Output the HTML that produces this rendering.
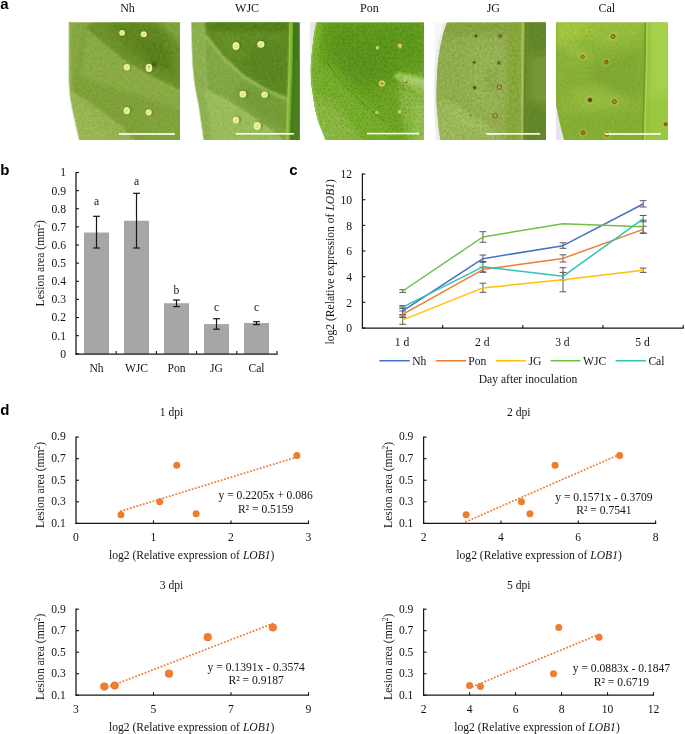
<!DOCTYPE html>
<html><head><meta charset="utf-8"><title>Figure</title>
<style>html,body{margin:0;padding:0;background:#fff;}svg{display:block;}text{font-family:"Liberation Serif",serif;}.pl text{font-family:"Liberation Sans",sans-serif;font-weight:bold;}</style>
</head><body>
<svg width="685" height="734" viewBox="0 0 685 734" font-family="Liberation Serif, serif" font-size="11.6" fill="#141414" style="opacity:0.999">
<rect width="685" height="734" fill="#fff"/>
<text x="127.50" y="11.50" text-anchor="middle" font-size="12">Nh</text>
<text x="247.10" y="11.50" text-anchor="middle" font-size="12">WJC</text>
<text x="369.30" y="11.50" text-anchor="middle" font-size="12">Pon</text>
<text x="493.30" y="11.50" text-anchor="middle" font-size="12">JG</text>
<text x="606.80" y="11.50" text-anchor="middle" font-size="12">Cal</text>
<defs>
<filter id="b1" x="-20%" y="-20%" width="140%" height="140%"><feGaussianBlur stdDeviation="1"/></filter>
<filter id="b2" x="-30%" y="-30%" width="160%" height="160%"><feGaussianBlur stdDeviation="2.2"/></filter>
<filter id="b4" x="-40%" y="-40%" width="180%" height="180%"><feGaussianBlur stdDeviation="4"/></filter>
<filter id="b7" x="-50%" y="-50%" width="200%" height="200%"><feGaussianBlur stdDeviation="7"/></filter>
<filter id="b05" x="-20%" y="-20%" width="140%" height="140%"><feGaussianBlur stdDeviation="0.5"/></filter>
<filter id="noise" x="0" y="0" width="100%" height="100%">
  <feTurbulence type="fractalNoise" baseFrequency="0.35" numOctaves="3" seed="4" result="n"/>
  <feColorMatrix in="n" type="matrix" values="0 0 0 0 0.5  0 0 0 0 0.5  0 0 0 0 0.2  0.9 0.9 0 0 -0.62"/>
</filter>
<filter id="noised" x="0" y="0" width="100%" height="100%">
  <feTurbulence type="fractalNoise" baseFrequency="0.4" numOctaves="3" seed="9" result="n"/>
  <feColorMatrix in="n" type="matrix" values="0 0 0 0 0.1  0 0 0 0 0.25  0 0 0 0 0.0  1.0 1.0 0 0 -0.72"/>
</filter>
<filter id="dots" x="0" y="0" width="100%" height="100%">
  <feTurbulence type="fractalNoise" baseFrequency="0.55" numOctaves="1" seed="2" result="n"/>
  <feColorMatrix in="n" type="matrix" values="0 0 0 0 0.12  0 0 0 0 0.3  0 0 0 0 0.02  3.5 0 0 0 -1.95"/>
</filter>
</defs>
<clipPath id="c1"><rect x="67.0" y="22.2" width="113.0" height="117.8"/></clipPath>
<clipPath id="l1"><path d="M68.8,22.2 L180.0,22.2 L180.0,140.0 L79.0,140.0 C76.5,130 72.5,112 70.2,98 C69.2,92 68.8,86 68.8,80 Z"/></clipPath>
<g clip-path="url(#c1)">
<g clip-path="url(#l1)">
<rect x="67.0" y="22.2" width="113.0" height="117.8" fill="#7fa23a"/>
<polygon points="66,20 90,20 84,60 74,92 66,92" fill="#88aa44" filter="url(#b2)" opacity="0.9"/>
<polygon points="87,30 123,59.6 150.7,76 182,91 182,112 140,96 100,84 80,76" fill="#8fb04c" filter="url(#b2)" opacity="0.9"/>
<polygon points="91,20 162,20 182,40 182,91.5 150.7,76 122.9,59.6 100,41 87,30" fill="#6a9029" filter="url(#b2)"/>
<polygon points="108,20 150,20 174,46 176,78 150,66 126,48" fill="#587f1b" filter="url(#b4)" opacity="0.85"/>
<polygon points="138,40 162,44 170,70 150,62" fill="#4c7312" filter="url(#b2)" opacity="0.6"/>
<polygon points="156,18 184,18 184,48" fill="#7ba43a" filter="url(#b2)"/>
<polyline points="87,31 122.5,61 150.5,77.5 182,93" fill="none" stroke="#98b852" stroke-width="2.2" stroke-linecap="round" stroke-linejoin="round" filter="url(#b1)" opacity="0.8"/>
<polygon points="140,100 182,112 182,142 150,142" fill="#83a840" filter="url(#b4)" opacity="0.6"/>
<polygon points="66,89 72.3,90.6 85.3,98.8 122.9,126.6 136,142 66,142" fill="#9ab856" filter="url(#b1)"/>
<polygon points="66,100 84,106 112,142 66,142" fill="#a0bd5c" filter="url(#b2)" opacity="0.8"/>
<polyline points="72,89 85.3,97.4 122.9,125.2 134,138.6" fill="none" stroke="#7a9e38" stroke-width="1.6" stroke-linecap="round" stroke-linejoin="round" filter="url(#b1)" opacity="0.55"/>
<polyline points="84.0,50 120.0,74 182,110" fill="none" stroke="#9cbc5c" stroke-width="0.9" stroke-linecap="round" stroke-linejoin="round" filter="url(#b1)" opacity="0.28"/>
<polyline points="85.8,59 121.8,83 182,119" fill="none" stroke="#9cbc5c" stroke-width="0.9" stroke-linecap="round" stroke-linejoin="round" filter="url(#b1)" opacity="0.28"/>
<polyline points="87.6,68 123.6,92 182,128" fill="none" stroke="#9cbc5c" stroke-width="0.9" stroke-linecap="round" stroke-linejoin="round" filter="url(#b1)" opacity="0.28"/>
<polyline points="89.4,77 125.4,101 182,137" fill="none" stroke="#9cbc5c" stroke-width="0.9" stroke-linecap="round" stroke-linejoin="round" filter="url(#b1)" opacity="0.28"/>
<polyline points="91.2,86 127.2,110 182,146" fill="none" stroke="#9cbc5c" stroke-width="0.9" stroke-linecap="round" stroke-linejoin="round" filter="url(#b1)" opacity="0.28"/>
<polyline points="93.0,95 129.0,119 182,155" fill="none" stroke="#9cbc5c" stroke-width="0.9" stroke-linecap="round" stroke-linejoin="round" filter="url(#b1)" opacity="0.28"/>
<polyline points="94.8,104 130.8,128 182,164" fill="none" stroke="#9cbc5c" stroke-width="0.9" stroke-linecap="round" stroke-linejoin="round" filter="url(#b1)" opacity="0.28"/>
<polyline points="70.4,20 70.4,84 73,104 80,134" fill="none" stroke="#a5c06a" stroke-width="2.0" stroke-linecap="round" stroke-linejoin="round" filter="url(#b1)" opacity="0.7"/>
<polyline points="84.5,34 80,62 74,90" fill="none" stroke="#6d9230" stroke-width="1.2" stroke-linecap="round" stroke-linejoin="round" filter="url(#b1)" opacity="0.5"/>
<rect x="67.0" y="22.2" width="113.0" height="117.8" filter="url(#noise)" opacity="0.3"/>
<rect x="67.0" y="22.2" width="113.0" height="117.8" filter="url(#noised)" opacity="0.35"/>
<circle cx="154.0" cy="64.6" r="2.2" fill="#2f4a10" filter="url(#b1)" opacity="0.85"/>
<ellipse cx="123.1" cy="32.4" rx="2.9" ry="2.9" fill="#34580f" opacity="0.45" filter="url(#b1)"/>
<ellipse cx="122.1" cy="32.8" rx="2.9" ry="2.9" fill="#ecf0a6" filter="url(#b05)"/>
<circle cx="121.6" cy="33.599999999999994" r="1.1" fill="#d3d872" filter="url(#b05)" opacity="0.8"/>
<circle cx="122.89999999999999" cy="32.099999999999994" r="0.7" fill="#c0c860" filter="url(#b05)" opacity="0.7"/>
<ellipse cx="144.8" cy="33.800000000000004" rx="3.0" ry="3.0" fill="#34580f" opacity="0.45" filter="url(#b1)"/>
<ellipse cx="143.8" cy="34.2" rx="3.0" ry="3.0" fill="#ecf0a6" filter="url(#b05)"/>
<circle cx="143.3" cy="35.0" r="1.1" fill="#d3d872" filter="url(#b05)" opacity="0.8"/>
<circle cx="144.60000000000002" cy="33.5" r="0.7" fill="#c0c860" filter="url(#b05)" opacity="0.7"/>
<ellipse cx="127.9" cy="66.89999999999999" rx="3.2" ry="3.2" fill="#34580f" opacity="0.45" filter="url(#b1)"/>
<ellipse cx="126.9" cy="67.3" rx="3.2" ry="3.2" fill="#ecf0a6" filter="url(#b05)"/>
<circle cx="126.4" cy="68.1" r="1.1" fill="#d3d872" filter="url(#b05)" opacity="0.8"/>
<circle cx="127.7" cy="66.6" r="0.7" fill="#c0c860" filter="url(#b05)" opacity="0.7"/>
<ellipse cx="150.0" cy="67.5" rx="3.3" ry="4.125" fill="#34580f" opacity="0.45" filter="url(#b1)"/>
<ellipse cx="149.0" cy="67.9" rx="3.3" ry="4.125" fill="#ecf0a6" filter="url(#b05)"/>
<circle cx="148.5" cy="68.7" r="1.1" fill="#d3d872" filter="url(#b05)" opacity="0.8"/>
<circle cx="149.8" cy="67.2" r="0.7" fill="#c0c860" filter="url(#b05)" opacity="0.7"/>
<ellipse cx="127.8" cy="110.19999999999999" rx="3.2" ry="3.6799999999999997" fill="#34580f" opacity="0.45" filter="url(#b1)"/>
<ellipse cx="126.8" cy="110.6" rx="3.2" ry="3.6799999999999997" fill="#ecf0a6" filter="url(#b05)"/>
<circle cx="126.3" cy="111.39999999999999" r="1.1" fill="#d3d872" filter="url(#b05)" opacity="0.8"/>
<circle cx="127.6" cy="109.89999999999999" r="0.7" fill="#c0c860" filter="url(#b05)" opacity="0.7"/>
<ellipse cx="149.7" cy="111.89999999999999" rx="3.0" ry="3.1500000000000004" fill="#34580f" opacity="0.45" filter="url(#b1)"/>
<ellipse cx="148.7" cy="112.3" rx="3.0" ry="3.1500000000000004" fill="#ecf0a6" filter="url(#b05)"/>
<circle cx="148.2" cy="113.1" r="1.1" fill="#d3d872" filter="url(#b05)" opacity="0.8"/>
<circle cx="149.5" cy="111.6" r="0.7" fill="#c0c860" filter="url(#b05)" opacity="0.7"/>
<circle cx="148.9" cy="66.6" r="0.9" fill="#6f8a2a" filter="url(#b05)" opacity="0.8"/>
</g>
<polyline points="68.6,22.2 68.6,80 70,98 73,114 79,140.0" fill="none" stroke="#e3ebd0" stroke-width="1.2" stroke-linecap="round" stroke-linejoin="round" filter="url(#b05)" opacity="0.8"/>
<rect x="118.8" y="133.2" width="56.10000000000001" height="1.6" fill="#fff"/>
</g>
<clipPath id="c2"><rect x="191.0" y="22.2" width="108.80000000000001" height="117.8"/></clipPath>
<clipPath id="l2"><path d="M191.0,22.2 L299.8,22.2 L299.8,140.0 L203.5,140.0 L200.7,120 L198.5,105 L196.4,95 L194.2,82 L192.4,64 L191.5,40 Z"/></clipPath>
<g clip-path="url(#c2)">
<g clip-path="url(#l2)">
<rect x="191.0" y="22.2" width="108.80000000000001" height="117.8" fill="#84ab48"/>
<polygon points="197,40 206.3,34.9 223.2,55.8 244,75 268.2,89.5 290,98.5 290,140 281,137.8 255.3,118.5 223.2,97.6 197.4,86.3" fill="#82a946" filter="url(#b2)"/>
<polygon points="236,84 270,92 290,102 290,134 262,118 240,102" fill="#6f9a36" filter="url(#b4)" opacity="0.85"/>
<polygon points="203,20 292,20 292,99 268.2,89.5 244,75 223.2,55.8 206.3,34.9" fill="#5b8a22" filter="url(#b1)"/>
<polygon points="206,20 292,20 292,32 210,31" fill="#4b7a18" filter="url(#b2)" opacity="0.9"/>
<polygon points="236,50 288,44 288,92 262,84 244,70" fill="#527f1c" filter="url(#b4)" opacity="0.8"/>
<polygon points="214,32 236,34 250,60 232,58" fill="#639026" filter="url(#b2)" opacity="0.7"/>
<polyline points="206,36.5 222.6,57.4 243.4,76.6 267.6,91.2 290,100.3" fill="none" stroke="#a4c66c" stroke-width="2.4" stroke-linecap="round" stroke-linejoin="round" filter="url(#b1)" opacity="0.9"/>
<polygon points="190,84 197.4,86.3 223.2,97.6 255.3,118.5 281,137.8 284,142 190,142" fill="#9fc264" filter="url(#b1)"/>
<polyline points="197.4,87.6 223,99 255,120 280,139" fill="none" stroke="#a8ca70" stroke-width="1.6" stroke-linecap="round" stroke-linejoin="round" filter="url(#b1)" opacity="0.8"/>
<polygon points="190,20 203,20 204,60 207,100 214,142 190,142" fill="#8fb556" filter="url(#b2)" opacity="0.9"/>
<polyline points="203.4,20 204.4,60 207.5,100 214,142" fill="none" stroke="#a9c97a" stroke-width="1.3" stroke-linecap="round" stroke-linejoin="round" filter="url(#b1)" opacity="0.8"/>
<polyline points="194,40 205,30" fill="none" stroke="#a4c674" stroke-width="0.9" stroke-linecap="round" stroke-linejoin="round" filter="url(#b05)" opacity="0.45"/>
<polyline points="195,58 207,46" fill="none" stroke="#a4c674" stroke-width="0.9" stroke-linecap="round" stroke-linejoin="round" filter="url(#b05)" opacity="0.45"/>
<polyline points="196,74 210,64" fill="none" stroke="#a4c674" stroke-width="0.9" stroke-linecap="round" stroke-linejoin="round" filter="url(#b05)" opacity="0.45"/>
<polyline points="199,92 210,82" fill="none" stroke="#a4c674" stroke-width="0.9" stroke-linecap="round" stroke-linejoin="round" filter="url(#b05)" opacity="0.45"/>
<polyline points="201,110 214,100" fill="none" stroke="#a4c674" stroke-width="0.9" stroke-linecap="round" stroke-linejoin="round" filter="url(#b05)" opacity="0.45"/>
<polyline points="204,128 218,118" fill="none" stroke="#a4c674" stroke-width="0.9" stroke-linecap="round" stroke-linejoin="round" filter="url(#b05)" opacity="0.45"/>
<polyline points="196,48 206,62" fill="none" stroke="#a4c674" stroke-width="0.9" stroke-linecap="round" stroke-linejoin="round" filter="url(#b05)" opacity="0.45"/>
<polyline points="198,70 208,84" fill="none" stroke="#a4c674" stroke-width="0.9" stroke-linecap="round" stroke-linejoin="round" filter="url(#b05)" opacity="0.45"/>
<polyline points="200,90 212,104" fill="none" stroke="#a4c674" stroke-width="0.9" stroke-linecap="round" stroke-linejoin="round" filter="url(#b05)" opacity="0.45"/>
<rect x="191.0" y="22.2" width="108.80000000000001" height="117.8" filter="url(#noise)" opacity="0.28"/>
<rect x="191.0" y="22.2" width="108.80000000000001" height="117.8" filter="url(#noised)" opacity="0.3"/>
<polygon points="292.5,20 301,20 301,142 289,142" fill="#43761a" filter="url(#b05)"/>
<polygon points="295,60 301,60 301,142 292,142" fill="#4f8222" filter="url(#b1)" opacity="0.8"/>
<polyline points="291.5,20 290.2,70 287.4,142" fill="none" stroke="#86be32" stroke-width="3.8" stroke-linecap="round" stroke-linejoin="round" filter="url(#b1)"/>
<polyline points="290.2,20 289.1,70 286.5,142" fill="none" stroke="#a2cf58" stroke-width="1.0" stroke-linecap="round" stroke-linejoin="round" filter="url(#b05)" opacity="0.8"/>
<ellipse cx="237.5" cy="45.7" rx="3.5" ry="3.9200000000000004" fill="#2f5a10" opacity="0.5" filter="url(#b1)"/>
<ellipse cx="236.0" cy="46.0" rx="3.5" ry="3.9200000000000004" fill="#eef1a2" filter="url(#b05)"/>
<circle cx="235.6" cy="46.9" r="1.2" fill="#d2d86e" filter="url(#b05)" opacity="0.8"/>
<circle cx="237.0" cy="45.2" r="0.8" fill="#bcc85c" filter="url(#b05)" opacity="0.7"/>
<ellipse cx="262.4" cy="44.0" rx="3.6" ry="3.42" fill="#2f5a10" opacity="0.5" filter="url(#b1)"/>
<ellipse cx="260.9" cy="44.3" rx="3.6" ry="3.42" fill="#eef1a2" filter="url(#b05)"/>
<circle cx="260.5" cy="45.199999999999996" r="1.2" fill="#d2d86e" filter="url(#b05)" opacity="0.8"/>
<circle cx="261.9" cy="43.5" r="0.8" fill="#bcc85c" filter="url(#b05)" opacity="0.7"/>
<ellipse cx="244.4" cy="93.9" rx="3.4" ry="3.4" fill="#2f5a10" opacity="0.5" filter="url(#b1)"/>
<ellipse cx="242.9" cy="94.2" rx="3.4" ry="3.4" fill="#eef1a2" filter="url(#b05)"/>
<circle cx="242.5" cy="95.10000000000001" r="1.2" fill="#d2d86e" filter="url(#b05)" opacity="0.8"/>
<circle cx="243.9" cy="93.4" r="0.8" fill="#bcc85c" filter="url(#b05)" opacity="0.7"/>
<ellipse cx="266.1" cy="94.4" rx="3.3" ry="3.135" fill="#2f5a10" opacity="0.5" filter="url(#b1)"/>
<ellipse cx="264.6" cy="94.7" rx="3.3" ry="3.135" fill="#eef1a2" filter="url(#b05)"/>
<circle cx="264.20000000000005" cy="95.60000000000001" r="1.2" fill="#d2d86e" filter="url(#b05)" opacity="0.8"/>
<circle cx="265.6" cy="93.9" r="0.8" fill="#bcc85c" filter="url(#b05)" opacity="0.7"/>
<ellipse cx="237.5" cy="119.60000000000001" rx="3.2" ry="3.5200000000000005" fill="#2f5a10" opacity="0.5" filter="url(#b1)"/>
<ellipse cx="236.0" cy="119.9" rx="3.2" ry="3.5200000000000005" fill="#eef1a2" filter="url(#b05)"/>
<circle cx="235.6" cy="120.80000000000001" r="1.2" fill="#d2d86e" filter="url(#b05)" opacity="0.8"/>
<circle cx="237.0" cy="119.10000000000001" r="0.8" fill="#bcc85c" filter="url(#b05)" opacity="0.7"/>
<ellipse cx="258.7" cy="125.7" rx="3.7" ry="3.8850000000000002" fill="#2f5a10" opacity="0.5" filter="url(#b1)"/>
<ellipse cx="257.2" cy="126.0" rx="3.7" ry="3.8850000000000002" fill="#eef1a2" filter="url(#b05)"/>
<circle cx="256.8" cy="126.9" r="1.2" fill="#d2d86e" filter="url(#b05)" opacity="0.8"/>
<circle cx="258.2" cy="125.2" r="0.8" fill="#bcc85c" filter="url(#b05)" opacity="0.7"/>
</g>
<polyline points="191.0,22.2 191.5,40 192.4,64 194.2,82 196.4,95 198.5,105 200.7,120 203.5,140.0" fill="none" stroke="#dde8c6" stroke-width="1.1" stroke-linecap="round" stroke-linejoin="round" filter="url(#b05)" opacity="0.8"/>
<rect x="236.0" y="133.0" width="57.89999999999998" height="1.6" fill="#fff"/>
</g>
<clipPath id="c3"><rect x="309.5" y="22.2" width="114.5" height="117.8"/></clipPath>
<clipPath id="l3"><path d="M316.4,22.2 L424.0,22.2 L424.0,140.0 L326.0,140.0 C323,132 320,126 318.5,121.8 C315.5,112 314,104 313.3,97 C311.6,88 310.9,80 310.8,72 C310.7,66 311.2,60 311.7,55.3 C312.6,44 314,32 316.4,22.2 Z"/></clipPath>
<g clip-path="url(#c3)">
<linearGradient id="g3bg" x1="0" y1="0" x2="0" y2="1"><stop offset="0" stop-color="#e6e6e8"/><stop offset="0.4" stop-color="#f3f3f4"/><stop offset="0.8" stop-color="#ffffff"/></linearGradient>
<rect x="309.5" y="22.2" width="20" height="117.8" fill="url(#g3bg)"/>
<g clip-path="url(#l3)">
<rect x="309.5" y="22.2" width="114.5" height="117.8" fill="#67a31d"/>
<polygon points="322,20 426,20 426,64 400,70 384,84 360,84 334,60" fill="#579516" filter="url(#b7)" opacity="0.95"/>
<polygon points="330,40 380,44 392,78 362,88 336,64" fill="#528f14" filter="url(#b7)" opacity="0.75"/>
<polygon points="308,20 322,20 318,60 320,100 330,142 308,142" fill="#78b42c" filter="url(#b2)" opacity="0.9"/>
<polygon points="308,62 330,66 352,92 376,112 400,142 308,142" fill="#72ae28" filter="url(#b4)" opacity="0.9"/>
<polygon points="308,96 336,110 362,142 308,142" fill="#80ba38" filter="url(#b4)" opacity="0.8"/>
<polygon points="393,77 398,72 426,78 426,100 412,88" fill="#93c94c" filter="url(#b1)" opacity="0.95"/>
<polygon points="400,75 426,80 426,90 410,83" fill="#b2da7c" filter="url(#b1)" opacity="0.75"/>
<polygon points="398,90 426,88 426,142 408,142" fill="#7fba38" filter="url(#b4)" opacity="0.9"/>
<polygon points="412,104 426,100 426,142 416,142" fill="#8cc548" filter="url(#b2)" opacity="0.7"/>
<polyline points="326.6,62 338,78 348,89 365,105 385,122" fill="none" stroke="#3f7c12" stroke-width="0.9" stroke-linecap="round" stroke-linejoin="round" filter="url(#b05)" opacity="0.75"/>
<polyline points="365,42 385,60 400,70" fill="none" stroke="#4a8616" stroke-width="0.8" stroke-linecap="round" stroke-linejoin="round" filter="url(#b05)" opacity="0.55"/>
<polyline points="331,46 327,62" fill="none" stroke="#4a8616" stroke-width="0.9" stroke-linecap="round" stroke-linejoin="round" filter="url(#b05)" opacity="0.5"/>
<path d="M309.0,22.3h0M314.4,22.1h0M318.6,22.9h0M321.9,23.2h0M326.3,23.0h0M330.9,22.1h0M336.3,24.0h0M340.0,22.5h0M345.8,24.4h0M350.2,22.9h0M355.7,22.0h0M359.9,22.7h0M362.6,22.2h0M367.5,24.0h0M371.7,23.4h0M377.4,22.9h0M381.6,22.1h0M384.9,22.4h0M391.0,23.0h0M394.5,23.4h0M399.4,22.7h0M404.8,23.7h0M407.8,23.4h0M413.1,24.2h0M418.1,22.6h0M423.2,22.2h0M311.5,27.8h0M315.3,27.1h0M319.5,27.5h0M325.9,27.3h0M330.7,26.6h0M334.7,27.3h0M338.9,27.0h0M344.1,28.3h0M347.6,27.5h0M351.1,27.6h0M357.1,28.4h0M362.0,26.5h0M365.4,27.5h0M369.0,27.0h0M373.8,26.1h0M378.1,27.8h0M382.7,26.4h0M387.9,28.1h0M391.6,27.0h0M397.3,28.1h0M402.5,28.0h0M405.6,26.9h0M410.3,28.1h0M416.4,26.2h0M418.9,26.4h0M308.8,31.0h0M314.2,30.4h0M317.2,30.8h0M322.7,31.2h0M328.7,31.5h0M332.0,31.3h0M337.0,29.8h0M342.0,31.7h0M346.5,31.8h0M349.7,30.7h0M353.5,31.3h0M357.9,29.9h0M362.7,30.1h0M367.6,29.8h0M371.2,30.1h0M376.0,30.6h0M380.3,32.0h0M386.3,30.1h0M389.9,30.6h0M394.6,30.0h0M400.4,32.3h0M403.9,31.0h0M407.4,30.0h0M412.6,30.4h0M418.4,30.1h0M420.8,32.2h0M311.8,34.0h0M316.3,33.7h0M320.8,36.1h0M326.1,35.4h0M329.1,34.6h0M333.3,35.6h0M338.8,35.6h0M342.8,34.2h0M348.5,36.2h0M353.1,35.7h0M357.5,35.5h0M360.5,34.9h0M365.3,33.7h0M369.0,34.3h0M374.1,35.4h0M380.4,34.8h0M384.8,36.2h0M389.4,34.5h0M392.0,34.2h0M396.4,34.1h0M402.0,35.9h0M407.1,34.8h0M411.1,35.7h0M414.1,35.3h0M420.8,35.6h0M310.2,38.7h0M313.2,39.6h0M318.1,39.6h0M324.2,38.5h0M327.2,40.0h0M332.6,37.9h0M335.5,37.9h0M342.1,39.6h0M344.6,39.6h0M351.2,39.2h0M354.1,38.9h0M358.0,37.5h0M364.7,39.2h0M368.1,39.9h0M372.3,39.8h0M377.8,38.0h0M380.9,38.3h0M385.3,39.0h0M389.9,38.6h0M394.0,39.9h0M399.1,38.7h0M404.2,39.9h0M408.3,39.9h0M413.0,38.9h0M417.6,37.5h0M421.8,38.0h0M310.4,43.5h0M315.3,42.6h0M321.3,42.8h0M324.7,42.7h0M329.8,43.4h0M333.2,42.9h0M338.0,42.1h0M343.9,42.7h0M347.9,43.4h0M353.3,42.6h0M357.0,42.7h0M361.2,43.2h0M365.6,42.8h0M370.1,43.8h0M375.2,43.7h0M380.3,42.1h0M383.9,43.9h0M389.1,41.8h0M391.7,42.5h0M396.1,42.0h0M400.6,43.1h0M406.9,43.7h0M409.8,43.3h0M415.6,41.8h0M420.7,43.9h0M308.8,47.8h0M313.7,46.6h0M319.8,47.5h0M322.1,46.4h0M327.5,46.2h0M331.2,46.1h0M337.1,45.4h0M341.1,46.4h0M344.2,46.2h0M350.3,46.6h0M353.4,47.9h0M359.7,47.8h0M362.5,46.0h0M366.8,47.3h0M371.9,45.6h0M376.8,47.7h0M382.3,46.0h0M385.1,47.7h0M390.7,47.1h0M393.9,45.4h0M400.0,46.4h0M402.9,47.7h0M408.8,47.4h0M411.9,47.5h0M416.4,47.5h0M421.9,46.2h0M311.8,51.6h0M315.6,49.5h0M320.8,49.8h0M324.2,49.6h0M328.5,49.7h0M333.7,50.0h0M339.4,50.0h0M343.2,49.7h0M347.3,49.2h0M351.6,49.2h0M357.3,50.6h0M360.4,50.4h0M366.8,49.5h0M371.0,50.3h0M374.7,51.4h0M378.9,50.5h0M384.2,51.8h0M387.8,51.4h0M393.2,50.9h0M397.0,50.1h0M400.5,49.5h0M405.1,51.1h0M410.1,49.6h0M414.1,51.4h0M420.7,50.9h0M308.9,53.7h0M313.5,54.3h0M317.6,54.3h0M322.4,55.6h0M328.7,54.5h0M331.3,55.6h0M336.0,54.0h0M339.7,54.1h0M345.4,54.4h0M349.2,54.4h0M353.2,53.8h0M357.9,54.1h0M362.3,53.2h0M367.5,53.7h0M372.7,54.5h0M377.7,54.8h0M382.1,55.4h0M385.7,53.9h0M391.8,53.5h0M395.6,54.8h0M398.3,55.3h0M405.0,54.7h0M409.1,55.2h0M412.1,54.5h0M417.5,55.3h0M422.8,55.2h0M311.9,59.3h0M316.7,58.8h0M320.0,57.1h0M324.2,57.9h0M328.7,59.2h0M334.4,58.6h0M339.0,58.8h0M343.2,57.0h0M348.5,58.9h0M352.2,58.4h0M357.1,57.2h0M361.8,57.7h0M364.6,57.7h0M370.8,57.5h0M375.3,59.5h0M379.2,58.0h0M383.6,58.8h0M388.9,58.6h0M393.1,57.2h0M396.3,57.7h0M402.3,57.8h0M406.4,57.0h0M409.6,57.7h0M415.6,58.8h0M420.2,57.8h0M309.5,62.1h0M313.9,61.2h0M319.5,61.4h0M324.2,63.3h0M326.2,62.1h0M332.8,63.4h0M336.4,61.6h0M340.2,63.4h0M344.7,62.4h0M349.1,62.3h0M355.7,61.2h0M359.8,62.2h0M364.5,62.7h0M367.3,63.2h0M372.5,61.0h0M375.7,62.2h0M381.4,61.7h0M385.1,61.8h0M390.0,63.1h0M393.7,62.9h0M400.4,61.2h0M405.1,62.8h0M409.5,61.7h0M412.7,61.9h0M418.8,62.4h0M421.6,62.0h0M311.1,64.9h0M315.2,67.0h0M320.1,67.2h0M324.5,65.5h0M329.7,65.3h0M333.9,67.3h0M339.7,66.9h0M343.5,67.2h0M348.8,66.2h0M352.8,64.9h0M357.3,66.0h0M361.9,66.5h0M365.1,64.9h0M371.3,65.1h0M374.6,65.7h0M378.7,66.7h0M384.9,65.5h0M388.6,65.6h0M392.8,65.8h0M396.3,65.2h0M400.9,67.2h0M406.2,65.4h0M411.8,67.4h0M415.1,65.2h0M418.9,65.0h0M309.1,68.9h0M313.3,69.4h0M318.7,71.0h0M323.6,69.8h0M327.3,70.1h0M331.7,69.6h0M335.4,69.4h0M342.2,69.0h0M345.5,70.3h0M350.9,69.3h0M353.9,69.3h0M358.7,69.9h0M364.7,70.9h0M369.0,68.8h0M371.3,70.5h0M378.0,69.9h0M381.7,68.7h0M385.7,71.1h0M391.3,70.9h0M396.2,69.3h0M398.5,69.1h0M404.1,70.5h0M409.6,70.6h0M413.4,70.7h0M417.4,70.1h0M420.8,70.7h0M311.0,75.0h0M316.6,73.4h0M319.7,73.3h0M325.6,74.4h0M328.7,72.8h0M334.3,74.1h0M338.4,73.2h0M343.5,72.6h0M347.2,73.8h0M353.4,74.3h0M357.7,73.8h0M360.5,73.2h0M366.9,74.4h0M369.7,72.7h0M374.7,74.4h0M379.0,73.3h0M384.1,75.0h0M387.5,72.7h0M392.3,73.7h0M397.7,73.1h0M402.5,74.5h0M406.2,73.1h0M411.9,73.4h0M416.0,73.2h0M419.0,74.6h0M309.0,79.0h0M314.0,77.0h0M317.8,77.6h0M323.4,79.0h0M326.6,77.5h0M331.3,79.0h0M335.6,76.6h0M339.9,77.5h0M346.5,78.8h0M350.6,79.1h0M355.6,77.4h0M358.2,78.9h0M364.1,76.6h0M368.4,77.5h0M372.2,77.4h0M376.1,76.5h0M380.9,77.4h0M387.2,76.8h0M391.7,77.0h0M394.6,78.6h0M400.3,77.6h0M402.8,77.7h0M408.2,78.9h0M412.2,77.4h0M418.5,76.6h0M421.8,78.6h0M312.4,80.5h0M315.0,80.6h0M321.8,81.1h0M325.8,82.7h0M329.3,81.1h0M335.4,82.0h0M338.1,82.3h0M342.7,81.1h0M346.4,82.4h0M353.3,82.0h0M357.9,80.5h0M360.5,81.6h0M366.9,82.9h0M369.9,81.1h0M374.5,81.7h0M380.3,80.9h0M384.5,82.3h0M389.0,82.4h0M393.0,81.3h0M396.7,81.3h0M402.4,80.6h0M405.4,82.4h0M410.0,80.6h0M414.0,81.8h0M419.2,82.9h0M310.5,86.9h0M313.4,84.5h0M317.5,85.6h0M323.5,85.5h0M326.8,85.4h0M332.3,86.1h0M337.1,86.5h0M341.4,84.6h0M346.4,85.1h0M350.2,85.3h0M355.1,84.8h0M358.3,84.9h0M362.6,86.6h0M368.2,85.1h0M372.2,86.9h0M377.0,84.9h0M382.3,86.0h0M387.3,84.6h0M390.4,86.4h0M395.9,86.7h0M398.3,85.1h0M403.0,84.8h0M409.7,85.8h0M414.1,85.3h0M418.5,85.5h0M421.4,86.3h0M312.9,88.5h0M316.4,89.8h0M320.0,89.2h0M324.3,88.7h0M329.1,89.8h0M334.6,88.7h0M337.4,89.1h0M343.7,88.7h0M347.2,88.7h0M353.0,89.6h0M355.6,88.5h0M360.9,89.6h0M366.1,88.4h0M369.3,90.0h0M374.5,88.9h0M378.7,90.7h0M383.2,89.7h0M387.8,89.3h0M393.6,90.8h0M396.8,88.7h0M402.3,88.7h0M404.9,90.5h0M410.5,90.3h0M415.0,90.5h0M419.6,88.6h0M308.2,93.5h0M314.4,94.5h0M317.4,93.7h0M322.7,93.4h0M326.6,92.8h0M332.1,94.5h0M335.5,93.4h0M341.8,94.6h0M344.7,92.4h0M351.2,94.6h0M354.5,92.2h0M360.1,93.1h0M364.6,93.7h0M368.8,92.5h0M373.2,92.7h0M376.8,94.3h0M382.4,92.6h0M385.3,93.1h0M390.5,93.1h0M394.0,92.7h0M400.1,94.4h0M402.8,93.6h0M409.2,92.2h0M413.9,92.4h0M417.8,93.5h0M422.3,92.9h0M311.5,97.5h0M316.0,97.7h0M320.6,97.1h0M324.0,97.6h0M329.7,96.6h0M334.9,98.0h0M338.6,96.5h0M343.1,96.3h0M346.7,97.1h0M351.1,97.1h0M356.7,96.1h0M361.6,96.2h0M366.3,98.0h0M370.2,96.1h0M374.7,97.0h0M380.4,96.4h0M384.6,98.6h0M388.8,98.1h0M391.9,98.6h0M397.2,98.5h0M402.8,96.4h0M406.9,98.4h0M409.6,96.9h0M415.9,96.4h0M420.7,96.7h0M310.3,100.3h0M314.0,102.3h0M317.7,100.6h0M323.0,100.7h0M326.3,100.4h0M331.1,102.3h0M337.0,102.2h0M340.1,101.9h0M344.5,101.3h0M350.4,100.8h0M355.5,101.3h0M359.2,102.2h0M362.5,102.5h0M368.3,100.9h0M373.3,100.6h0M378.3,101.4h0M381.1,101.9h0M385.8,100.4h0M391.1,100.0h0M395.8,100.6h0M399.9,102.5h0M404.2,101.6h0M408.0,99.9h0M411.8,100.3h0M417.8,101.0h0M422.0,102.2h0M310.7,104.4h0M316.6,103.9h0M319.4,104.7h0M324.2,104.7h0M329.0,105.3h0M334.4,104.3h0M339.0,105.0h0M342.3,106.2h0M347.0,104.2h0M351.1,105.5h0M357.7,105.8h0M360.9,104.5h0M364.4,105.5h0M370.4,104.7h0M375.1,105.0h0M380.3,105.7h0M383.0,106.1h0M387.0,105.2h0M392.5,104.4h0M396.1,105.8h0M400.4,105.2h0M407.3,104.2h0M409.9,105.4h0M415.2,105.5h0M420.5,104.3h0M309.0,108.5h0M312.8,110.0h0M319.2,109.6h0M321.7,109.9h0M328.1,108.9h0M332.6,108.9h0M335.8,108.0h0M340.3,107.8h0M345.1,109.6h0M350.5,109.9h0M355.1,108.4h0M359.1,108.8h0M364.2,109.1h0M367.4,109.4h0M373.7,108.3h0M378.0,107.7h0M380.9,108.3h0M386.6,110.2h0M391.1,108.5h0M396.0,108.6h0M398.8,110.1h0M404.3,109.5h0M408.9,110.2h0M412.9,109.9h0M418.0,109.9h0M421.8,109.6h0M311.9,112.4h0M315.5,113.2h0M319.6,114.0h0M324.3,111.7h0M328.7,114.0h0M333.8,112.0h0M337.5,111.7h0M343.7,113.2h0M348.2,113.5h0M351.1,113.1h0M356.3,113.7h0M362.0,113.9h0M364.6,113.9h0M371.3,114.1h0M373.7,112.1h0M378.2,111.7h0M384.6,113.7h0M388.5,113.7h0M393.0,112.3h0M396.2,111.9h0M402.4,112.1h0M405.7,112.7h0M409.5,112.3h0M414.6,113.5h0M419.4,112.4h0M310.7,116.8h0M314.9,117.1h0M317.3,116.6h0M322.8,117.5h0M327.1,117.3h0M332.1,116.1h0M337.4,115.7h0M341.8,115.9h0M344.2,116.0h0M350.7,118.0h0M353.2,116.8h0M359.0,117.6h0M362.7,116.8h0M367.6,117.7h0M371.9,118.0h0M376.4,116.1h0M382.0,116.8h0M385.0,117.2h0M389.4,117.5h0M395.5,117.5h0M399.8,116.4h0M403.7,116.5h0M409.5,115.7h0M414.0,115.6h0M416.7,116.2h0M423.0,116.8h0M311.4,121.7h0M315.5,120.6h0M320.8,121.4h0M325.9,121.1h0M329.3,120.2h0M333.3,121.6h0M339.1,121.3h0M342.3,120.5h0M348.4,120.9h0M351.2,120.6h0M357.7,120.0h0M360.4,120.2h0M366.2,121.6h0M369.3,119.8h0M374.0,120.2h0M379.3,119.8h0M383.3,119.9h0M389.4,121.3h0M391.7,121.9h0M396.2,120.4h0M403.0,121.5h0M406.8,120.5h0M409.9,121.1h0M414.2,119.9h0M419.4,119.5h0M309.2,125.4h0M314.5,124.6h0M318.8,124.5h0M322.1,124.9h0M327.3,125.2h0M333.1,124.4h0M336.7,125.2h0M340.8,123.9h0M346.1,125.6h0M350.7,125.1h0M355.4,125.1h0M359.4,124.5h0M363.0,124.9h0M367.0,124.4h0M373.2,125.2h0M377.3,124.0h0M381.3,124.5h0M386.3,124.4h0M391.0,125.7h0M394.2,125.0h0M400.2,124.3h0M404.0,125.8h0M407.3,124.7h0M412.1,125.3h0M418.6,124.6h0M421.0,124.8h0M311.8,129.1h0M316.2,128.9h0M321.6,128.6h0M325.0,129.7h0M328.9,129.0h0M333.9,129.2h0M337.7,129.8h0M342.8,127.3h0M347.1,128.2h0M350.9,128.3h0M356.5,129.0h0M360.8,127.9h0M365.0,129.1h0M371.3,128.6h0M374.0,129.3h0M378.9,127.8h0M382.7,129.2h0M389.0,128.8h0M392.6,128.7h0M396.5,129.7h0M401.3,128.9h0M407.0,129.3h0M410.6,128.0h0M415.3,127.5h0M420.6,128.1h0M310.4,131.8h0M313.7,131.8h0M318.3,131.6h0M321.7,133.0h0M326.9,131.7h0M331.5,132.3h0M336.3,132.8h0M341.4,132.0h0M346.6,133.3h0M348.8,133.3h0M355.6,133.1h0M358.1,133.3h0M363.8,131.1h0M366.7,133.6h0M372.9,131.8h0M376.0,131.5h0M380.8,133.1h0M385.6,131.5h0M391.6,133.2h0M394.1,133.4h0M399.8,133.1h0M404.4,133.4h0M409.2,133.3h0M412.2,132.9h0M417.6,133.0h0M421.8,133.4h0M311.8,135.7h0M315.5,135.4h0M320.7,135.2h0M325.1,135.4h0M329.7,136.3h0M334.3,137.2h0M337.4,137.2h0M343.1,136.5h0M348.1,137.2h0M351.9,136.1h0M357.9,135.2h0M361.6,136.7h0M364.5,136.6h0M370.7,137.4h0M374.3,137.6h0M379.2,136.3h0M384.7,135.1h0M388.8,136.6h0M392.3,137.2h0M396.9,136.2h0M401.8,137.0h0M405.4,136.1h0M410.5,136.4h0M416.0,135.8h0M420.6,136.0h0" stroke="#28600a" stroke-width="1.3" stroke-linecap="round" fill="none" opacity="0.42" filter="url(#b05)"/>
<rect x="309.5" y="22.2" width="114.5" height="117.8" filter="url(#noise)" opacity="0.3"/>
<clipPath id="l3b"><polygon points="308,88 336,100 366,142 308,142"/><polygon points="396,74 426,72 426,142 406,142"/></clipPath>
<g clip-path="url(#l3b)"><rect x="309.5" y="22.2" width="114.5" height="117.8" filter="url(#noise)" opacity="0.55"/></g>
<circle cx="377.4" cy="47.8" r="1.7" fill="#e6d264" filter="url(#b05)"/>
<circle cx="377.4" cy="47.8" r="0.595" fill="#b09430" filter="url(#b05)" opacity="0.7"/>
<circle cx="399.8" cy="45.6" r="2.0" fill="#e6d264" filter="url(#b05)"/>
<circle cx="399.8" cy="45.6" r="0.7" fill="#b09430" filter="url(#b05)" opacity="0.7"/>
<circle cx="376.9" cy="112.6" r="1.6" fill="#e6d264" filter="url(#b05)"/>
<circle cx="376.9" cy="112.6" r="0.5599999999999999" fill="#b09430" filter="url(#b05)" opacity="0.7"/>
<circle cx="399.5" cy="111.8" r="1.7" fill="#e6d264" filter="url(#b05)"/>
<circle cx="399.5" cy="111.8" r="0.595" fill="#b09430" filter="url(#b05)" opacity="0.7"/>
<circle cx="400.2" cy="47.4" r="1.2" fill="#e0c858" filter="url(#b05)"/>
<circle cx="381.9" cy="83.6" r="2.5" fill="#b89c34" stroke="#ead870" stroke-width="1.1" filter="url(#b05)"/>
<circle cx="405.6" cy="81.6" r="1.9" fill="#5a6a18" filter="url(#b05)" opacity="0.8"/>
<circle cx="404.9" cy="80.6" r="1.7" fill="#dcc65a" filter="url(#b05)"/>
<circle cx="405.4" cy="84.0" r="0.9" fill="#d0b84e" filter="url(#b05)"/>
</g>
<polyline points="316.6,22.2 312.2,54 311.4,72 313.8,97 318.8,122 325.6,140.0" fill="none" stroke="#9acb58" stroke-width="1.2" stroke-linecap="round" stroke-linejoin="round" filter="url(#b05)" opacity="0.7"/>
<rect x="367.0" y="132.79999999999998" width="52.0" height="1.6" fill="#fff"/>
</g>
<clipPath id="c4"><rect x="434.3" y="22.2" width="111.69999999999999" height="117.8"/></clipPath>
<clipPath id="l4"><path d="M447.2,22.2 L546.0,22.2 L546.0,140.0 L440.6,140.0 C439.5,134 438.4,126 438,120 C437,112 436.5,104 436.5,95.6 C436.5,88 436.8,80 437.3,71 C438,60 439.6,50 441.4,41.6 C442.8,35 444.8,28 447.2,22.2 Z"/></clipPath>
<g clip-path="url(#c4)">
<rect x="434.3" y="22.2" width="18" height="117.8" fill="#f7f7f7"/>
<polyline points="446,22.2 440.2,42 436.2,71 435.4,96 437,120 439.6,140.0" fill="none" stroke="#d9d9d6" stroke-width="2.4" stroke-linecap="round" stroke-linejoin="round" filter="url(#b1)" opacity="0.8"/>
<g clip-path="url(#l4)">
<rect x="434.3" y="22.2" width="111.69999999999999" height="117.8" fill="#9ab25a"/>
<polygon points="440,20 524,20 524,32 470,34 444,40" fill="#88a848" filter="url(#b2)" opacity="0.9"/>
<polygon points="434,40 466,40 470,100 434,110" fill="#97b35a" filter="url(#b4)" opacity="0.8"/>
<polygon points="470,44 506,44 506,112 480,112 466,90" fill="#a2bd66" filter="url(#b7)" opacity="0.7"/>
<polygon points="436,98 452,102 476,118 496,130 500,142 436,142" fill="#a6c26a" filter="url(#b2)" opacity="0.85"/>
<polygon points="452,104 476,118 492,128 470,130 450,116" fill="#aec972" filter="url(#b2)" opacity="0.6"/>
<polygon points="508,20 522,20 520,142 506,142" fill="#8aaa3c" filter="url(#b2)" opacity="0.85"/>
<polygon points="484,70 498,68 500,92 486,92" fill="#90ac52" filter="url(#b2)" opacity="0.7"/>
<rect x="434.3" y="22.2" width="111.69999999999999" height="117.8" filter="url(#noise)" opacity="0.25"/>
<rect x="434.3" y="22.2" width="111.69999999999999" height="117.8" filter="url(#noised)" opacity="0.5"/>
<polygon points="524.6,20 548,20 548,142 523,142" fill="#678c2c" filter="url(#b05)"/>
<polygon points="526,20 548,20 548,52 528,50" fill="#5d8326" filter="url(#b2)" opacity="0.85"/>
<polygon points="531,60 548,56 548,104 532,100" fill="#739a36" filter="url(#b2)" opacity="0.8"/>
<polygon points="524,104 548,112 548,142 523,142" fill="#5c8326" filter="url(#b2)" opacity="0.8"/>
<polyline points="525.6,20 524.8,80 523.6,142" fill="none" stroke="#54781c" stroke-width="1.2" stroke-linecap="round" stroke-linejoin="round" filter="url(#b05)" opacity="0.7"/>
<g clip-path="url(#c4)"><rect x="524" y="22.2" width="22" height="117.8" filter="url(#noise)" opacity="0.2"/></g>
<polyline points="523.4,20 522.4,70 521.4,142" fill="none" stroke="#a9c863" stroke-width="2.6" stroke-linecap="round" stroke-linejoin="round" filter="url(#b1)"/>
<polyline points="524.6,20 523.8,70 522.8,142" fill="none" stroke="#93ac2e" stroke-width="0.9" stroke-linecap="round" stroke-linejoin="round" filter="url(#b05)" opacity="0.7"/>
<circle cx="476.0" cy="35.9" r="2.15" fill="#788c34" filter="url(#b1)" opacity="0.55"/>
<circle cx="476.0" cy="35.9" r="1.25" fill="#4d3412" filter="url(#b05)" opacity="0.9"/>
<circle cx="474.1" cy="62.4" r="2.1" fill="#788c34" filter="url(#b1)" opacity="0.55"/>
<circle cx="474.1" cy="62.4" r="1.2" fill="#4d3412" filter="url(#b05)" opacity="0.85"/>
<circle cx="474.6" cy="87.7" r="2.35" fill="#788c34" filter="url(#b1)" opacity="0.55"/>
<circle cx="474.6" cy="87.7" r="1.45" fill="#4d3412" filter="url(#b05)" opacity="0.9"/>
<circle cx="470.3" cy="115.2" r="1.1" fill="#6a5a24" filter="url(#b05)" opacity="0.5"/>
<circle cx="500.2" cy="35.9" r="2.55" fill="#788c34" filter="url(#b1)" opacity="0.5"/>
<circle cx="500.2" cy="35.9" r="1.75" fill="#6a4e1e" filter="url(#b05)" opacity="0.9"/>
<circle cx="500.4" cy="36.1" r="0.7875" fill="#94843e" filter="url(#b05)" opacity="0.8"/>
<circle cx="498.9" cy="62.9" r="2.4000000000000004" fill="#788c34" filter="url(#b1)" opacity="0.5"/>
<circle cx="498.9" cy="62.9" r="1.6" fill="#6a4e1e" filter="url(#b05)" opacity="0.9"/>
<circle cx="499.09999999999997" cy="63.1" r="0.7200000000000001" fill="#94843e" filter="url(#b05)" opacity="0.8"/>
<circle cx="499.4" cy="87.1" r="2.3" fill="#a8a058" stroke="#6b4f22" stroke-width="0.9" filter="url(#b05)" opacity="0.9"/>
<circle cx="495.2" cy="115.7" r="2.4" fill="#a8a058" stroke="#6b4f22" stroke-width="0.9" filter="url(#b05)" opacity="0.9"/>
</g>
<rect x="486.3" y="133.1" width="53.99999999999994" height="1.6" fill="#fff"/>
</g>
<clipPath id="c5"><rect x="555.8" y="22.2" width="112.20000000000005" height="117.8"/></clipPath>
<clipPath id="l5"><path d="M555.8,22.2 L668.0,22.2 L668.0,140.0 L564.2,140.0 C561.5,130 558,116 555.8,103.8 Z"/></clipPath>
<g clip-path="url(#c5)">
<rect x="555.8" y="100" width="14" height="40" fill="#e6e4ec"/>
<g clip-path="url(#l5)">
<rect x="555.8" y="22.2" width="112.20000000000005" height="117.8" fill="#8eb83a"/>
<polygon points="554,18 646,18 646,34 610,44 580,40 554,44" fill="#9cc43c" filter="url(#b4)" opacity="0.9"/>
<polygon points="554,18 590,18 580,38 554,44" fill="#a8cc44" filter="url(#b4)" opacity="0.9"/>
<polyline points="556,40 580,52 606,72" fill="none" stroke="#a4ca4a" stroke-width="7" stroke-linecap="round" stroke-linejoin="round" filter="url(#b4)" opacity="0.8"/>
<polygon points="586,60 642,50 643,98 618,98 594,88" fill="#7faa33" filter="url(#b4)" opacity="0.95"/>
<polygon points="560,62 590,74 590,92 560,96" fill="#86b038" filter="url(#b4)" opacity="0.7"/>
<polygon points="572,88 600,86 624,96 622,112 580,112" fill="#9cc244" filter="url(#b4)" opacity="0.7"/>
<polygon points="560,116 644,108 644,142 562,142" fill="#84b036" filter="url(#b4)" opacity="0.9"/>
<polyline points="556.4,20 557,70 558,104 565,140" fill="none" stroke="#7ea832" stroke-width="1.6" stroke-linecap="round" stroke-linejoin="round" filter="url(#b1)" opacity="0.6"/>
<rect x="555.8" y="22.2" width="112.20000000000005" height="117.8" filter="url(#noise)" opacity="0.28"/>
<rect x="555.8" y="22.2" width="112.20000000000005" height="117.8" filter="url(#noised)" opacity="0.25"/>
<polygon points="646.4,20 670,20 670,142 643.4,142" fill="#a0cc44" filter="url(#b05)"/>
<polygon points="652,20 670,20 670,90 654,90" fill="#a8d250" filter="url(#b2)" opacity="0.8"/>
<polygon points="646,100 670,100 670,142 644,142" fill="#98c63e" filter="url(#b2)" opacity="0.8"/>
<polyline points="649,20 648.2,70 646.2,142" fill="none" stroke="#8aba38" stroke-width="3.5" stroke-linecap="round" stroke-linejoin="round" filter="url(#b2)" opacity="0.6"/>
<polyline points="645.4,20 644.6,70 642.6,142" fill="none" stroke="#6c9a28" stroke-width="1.7" stroke-linecap="round" stroke-linejoin="round" filter="url(#b05)" opacity="0.9"/>
<polyline points="643.8,20 643.0,70 641.0,142" fill="none" stroke="#7fa832" stroke-width="1.4" stroke-linecap="round" stroke-linejoin="round" filter="url(#b1)" opacity="0.6"/>
<polyline points="647.4,20 646.6,70 644.6,142" fill="none" stroke="#b2da5c" stroke-width="1.1" stroke-linecap="round" stroke-linejoin="round" filter="url(#b05)" opacity="0.7"/>
<circle cx="589.8" cy="31.8" r="2.8" fill="#bcc43c" filter="url(#b1)" opacity="0.8"/>
<circle cx="589.8" cy="31.8" r="1.3" fill="#8c9030" filter="url(#b05)" opacity="0.75"/>
<circle cx="613.1" cy="36.5" r="3.5" fill="#c2c63c" filter="url(#b1)" opacity="0.7"/>
<circle cx="613.1" cy="36.5" r="2.0" fill="#a89232" stroke="#73541a" stroke-width="1.0" filter="url(#b05)"/>
<circle cx="582.7" cy="56.8" r="3.2" fill="#c2c63c" filter="url(#b1)" opacity="0.7"/>
<circle cx="582.7" cy="56.8" r="1.7" fill="#a88a2a" stroke="#73541a" stroke-width="1.0" filter="url(#b05)" opacity="0.85"/>
<circle cx="606.4" cy="62.2" r="3.4" fill="#c2c63c" filter="url(#b1)" opacity="0.7"/>
<circle cx="606.4" cy="62.2" r="1.9" fill="#a89232" stroke="#73541a" stroke-width="1.0" filter="url(#b05)"/>
<circle cx="606.6" cy="62.0" r="0.8" fill="#4f3510" filter="url(#b05)" opacity="0.8"/>
<circle cx="590.0" cy="100.0" r="3.5" fill="#c2c63c" filter="url(#b1)" opacity="0.7"/>
<circle cx="590.0" cy="100.0" r="2.0" fill="#6a4c18" stroke="#73541a" stroke-width="1.0" filter="url(#b05)"/>
<circle cx="590.0" cy="100.0" r="1.1" fill="#3f2a0c" filter="url(#b05)" opacity="0.8"/>
<circle cx="614.4" cy="101.6" r="3.5" fill="#c2c63c" filter="url(#b1)" opacity="0.7"/>
<circle cx="614.4" cy="101.6" r="2.0" fill="#a89232" stroke="#73541a" stroke-width="1.0" filter="url(#b05)"/>
<circle cx="583.1" cy="132.7" r="3.5" fill="#c2c63c" filter="url(#b1)" opacity="0.7"/>
<circle cx="583.1" cy="132.7" r="2.0" fill="#927628" stroke="#73541a" stroke-width="1.0" filter="url(#b05)" opacity="0.9"/>
<circle cx="607.0" cy="134.4" r="3.4" fill="#c2c63c" filter="url(#b1)" opacity="0.7"/>
<circle cx="607.0" cy="134.4" r="1.9" fill="#a89232" stroke="#73541a" stroke-width="1.0" filter="url(#b05)" opacity="0.9"/>
<circle cx="665.6" cy="124.2" r="3.1" fill="#c2c63c" filter="url(#b1)" opacity="0.7"/>
<circle cx="665.6" cy="124.2" r="1.6" fill="#7a6020" stroke="#73541a" stroke-width="1.0" filter="url(#b05)" opacity="0.9"/>
</g>
<rect x="605.0" y="133.2" width="55.799999999999955" height="1.6" fill="#fff"/>
</g>
<g style="font-family:'Liberation Sans',sans-serif;font-weight:bold" class="pl" font-size="15" fill="#000">
<text x="0.3" y="8.6">a</text>
<text x="0.3" y="174.6">b</text>
<text x="289.3" y="174.6">c</text>
<text x="0.3" y="415.0">d</text>
</g>
<rect x="84.00" y="232.53" width="25" height="121.47" fill="#a6a6a6"/>
<rect x="124.00" y="220.74" width="25" height="133.26" fill="#a6a6a6"/>
<rect x="164.00" y="303.24" width="25" height="50.76" fill="#a6a6a6"/>
<rect x="204.00" y="324.09" width="25" height="29.91" fill="#a6a6a6"/>
<rect x="244.00" y="323.00" width="25" height="31.00" fill="#a6a6a6"/>
<line x1="76.00" y1="172.10" x2="76.00" y2="354.60" stroke="#161616" stroke-width="1.25"/>
<line x1="75.40" y1="354.00" x2="277.60" y2="354.00" stroke="#161616" stroke-width="1.25"/>
<line x1="76.00" y1="353.80" x2="79.00" y2="353.80" stroke="#161616" stroke-width="1.1"/>
<text x="66.00" y="357.70" text-anchor="end">0</text>
<line x1="76.00" y1="335.67" x2="79.00" y2="335.67" stroke="#161616" stroke-width="1.1"/>
<text x="66.00" y="339.57" text-anchor="end">0.1</text>
<line x1="76.00" y1="317.54" x2="79.00" y2="317.54" stroke="#161616" stroke-width="1.1"/>
<text x="66.00" y="321.44" text-anchor="end">0.2</text>
<line x1="76.00" y1="299.41" x2="79.00" y2="299.41" stroke="#161616" stroke-width="1.1"/>
<text x="66.00" y="303.31" text-anchor="end">0.3</text>
<line x1="76.00" y1="281.28" x2="79.00" y2="281.28" stroke="#161616" stroke-width="1.1"/>
<text x="66.00" y="285.18" text-anchor="end">0.4</text>
<line x1="76.00" y1="263.15" x2="79.00" y2="263.15" stroke="#161616" stroke-width="1.1"/>
<text x="66.00" y="267.05" text-anchor="end">0.5</text>
<line x1="76.00" y1="245.02" x2="79.00" y2="245.02" stroke="#161616" stroke-width="1.1"/>
<text x="66.00" y="248.92" text-anchor="end">0.6</text>
<line x1="76.00" y1="226.89" x2="79.00" y2="226.89" stroke="#161616" stroke-width="1.1"/>
<text x="66.00" y="230.79" text-anchor="end">0.7</text>
<line x1="76.00" y1="208.76" x2="79.00" y2="208.76" stroke="#161616" stroke-width="1.1"/>
<text x="66.00" y="212.66" text-anchor="end">0.8</text>
<line x1="76.00" y1="190.63" x2="79.00" y2="190.63" stroke="#161616" stroke-width="1.1"/>
<text x="66.00" y="194.53" text-anchor="end">0.9</text>
<line x1="76.00" y1="172.50" x2="79.00" y2="172.50" stroke="#161616" stroke-width="1.1"/>
<text x="66.00" y="176.40" text-anchor="end">1</text>
<line x1="116.20" y1="354.00" x2="116.20" y2="351.00" stroke="#161616" stroke-width="1.1"/>
<line x1="156.40" y1="354.00" x2="156.40" y2="351.00" stroke="#161616" stroke-width="1.1"/>
<line x1="196.60" y1="354.00" x2="196.60" y2="351.00" stroke="#161616" stroke-width="1.1"/>
<line x1="236.80" y1="354.00" x2="236.80" y2="351.00" stroke="#161616" stroke-width="1.1"/>
<line x1="277.00" y1="354.00" x2="277.00" y2="351.00" stroke="#161616" stroke-width="1.1"/>
<line x1="96.50" y1="216.30" x2="96.50" y2="248.00" stroke="#161616" stroke-width="1.2"/>
<line x1="93.10" y1="216.30" x2="99.90" y2="216.30" stroke="#161616" stroke-width="1.2"/>
<line x1="93.10" y1="248.00" x2="99.90" y2="248.00" stroke="#161616" stroke-width="1.2"/>
<line x1="136.50" y1="193.30" x2="136.50" y2="248.00" stroke="#161616" stroke-width="1.2"/>
<line x1="133.10" y1="193.30" x2="139.90" y2="193.30" stroke="#161616" stroke-width="1.2"/>
<line x1="133.10" y1="248.00" x2="139.90" y2="248.00" stroke="#161616" stroke-width="1.2"/>
<line x1="176.50" y1="300.00" x2="176.50" y2="306.60" stroke="#161616" stroke-width="1.2"/>
<line x1="173.10" y1="300.00" x2="179.90" y2="300.00" stroke="#161616" stroke-width="1.2"/>
<line x1="173.10" y1="306.60" x2="179.90" y2="306.60" stroke="#161616" stroke-width="1.2"/>
<line x1="216.50" y1="318.70" x2="216.50" y2="329.20" stroke="#161616" stroke-width="1.2"/>
<line x1="213.10" y1="318.70" x2="219.90" y2="318.70" stroke="#161616" stroke-width="1.2"/>
<line x1="213.10" y1="329.20" x2="219.90" y2="329.20" stroke="#161616" stroke-width="1.2"/>
<line x1="256.50" y1="321.70" x2="256.50" y2="324.60" stroke="#161616" stroke-width="1.2"/>
<line x1="253.10" y1="321.70" x2="259.90" y2="321.70" stroke="#161616" stroke-width="1.2"/>
<line x1="253.10" y1="324.60" x2="259.90" y2="324.60" stroke="#161616" stroke-width="1.2"/>
<text x="96.50" y="204.90" text-anchor="middle">a</text>
<text x="136.50" y="184.50" text-anchor="middle">a</text>
<text x="176.50" y="294.40" text-anchor="middle">b</text>
<text x="216.50" y="310.80" text-anchor="middle">c</text>
<text x="256.50" y="310.80" text-anchor="middle">c</text>
<text x="96.50" y="371.70" text-anchor="middle">Nh</text>
<text x="136.50" y="371.70" text-anchor="middle">WJC</text>
<text x="176.50" y="371.70" text-anchor="middle">Pon</text>
<text x="216.50" y="371.70" text-anchor="middle">JG</text>
<text x="256.50" y="371.70" text-anchor="middle">Cal</text>
<text transform="translate(44.30,263.30) rotate(-90)" text-anchor="middle">Lesion area (mm<tspan font-size="7.5" dy="-4">2</tspan><tspan dy="4">)</tspan></text>
<line x1="362.40" y1="173.44" x2="362.40" y2="328.60" stroke="#161616" stroke-width="1.25"/>
<line x1="361.80" y1="328.00" x2="683.80" y2="328.00" stroke="#161616" stroke-width="1.25"/>
<line x1="362.40" y1="328.00" x2="365.40" y2="328.00" stroke="#161616" stroke-width="1.1"/>
<text x="352.00" y="332.40" text-anchor="end">0</text>
<line x1="362.40" y1="302.34" x2="365.40" y2="302.34" stroke="#161616" stroke-width="1.1"/>
<text x="352.00" y="306.74" text-anchor="end">2</text>
<line x1="362.40" y1="276.68" x2="365.40" y2="276.68" stroke="#161616" stroke-width="1.1"/>
<text x="352.00" y="281.08" text-anchor="end">4</text>
<line x1="362.40" y1="251.02" x2="365.40" y2="251.02" stroke="#161616" stroke-width="1.1"/>
<text x="352.00" y="255.42" text-anchor="end">6</text>
<line x1="362.40" y1="225.36" x2="365.40" y2="225.36" stroke="#161616" stroke-width="1.1"/>
<text x="352.00" y="229.76" text-anchor="end">8</text>
<line x1="362.40" y1="199.70" x2="365.40" y2="199.70" stroke="#161616" stroke-width="1.1"/>
<text x="352.00" y="204.10" text-anchor="end">10</text>
<line x1="362.40" y1="174.04" x2="365.40" y2="174.04" stroke="#161616" stroke-width="1.1"/>
<text x="352.00" y="178.44" text-anchor="end">12</text>
<line x1="442.60" y1="328.00" x2="442.60" y2="325.00" stroke="#161616" stroke-width="1.1"/>
<line x1="522.80" y1="328.00" x2="522.80" y2="325.00" stroke="#161616" stroke-width="1.1"/>
<line x1="603.00" y1="328.00" x2="603.00" y2="325.00" stroke="#161616" stroke-width="1.1"/>
<line x1="683.20" y1="328.00" x2="683.20" y2="325.00" stroke="#161616" stroke-width="1.1"/>
<line x1="402.70" y1="307.00" x2="402.70" y2="314.60" stroke="#595959" stroke-width="1.0"/>
<line x1="399.30" y1="307.00" x2="406.10" y2="307.00" stroke="#595959" stroke-width="1.0"/>
<line x1="399.30" y1="314.60" x2="406.10" y2="314.60" stroke="#595959" stroke-width="1.0"/>
<line x1="482.90" y1="255.00" x2="482.90" y2="262.30" stroke="#595959" stroke-width="1.0"/>
<line x1="479.50" y1="255.00" x2="486.30" y2="255.00" stroke="#595959" stroke-width="1.0"/>
<line x1="479.50" y1="262.30" x2="486.30" y2="262.30" stroke="#595959" stroke-width="1.0"/>
<line x1="563.00" y1="242.80" x2="563.00" y2="248.30" stroke="#595959" stroke-width="1.0"/>
<line x1="559.60" y1="242.80" x2="566.40" y2="242.80" stroke="#595959" stroke-width="1.0"/>
<line x1="559.60" y1="248.30" x2="566.40" y2="248.30" stroke="#595959" stroke-width="1.0"/>
<line x1="643.20" y1="200.70" x2="643.20" y2="207.00" stroke="#595959" stroke-width="1.0"/>
<line x1="639.80" y1="200.70" x2="646.60" y2="200.70" stroke="#595959" stroke-width="1.0"/>
<line x1="639.80" y1="207.00" x2="646.60" y2="207.00" stroke="#595959" stroke-width="1.0"/>
<line x1="402.70" y1="311.00" x2="402.70" y2="317.50" stroke="#595959" stroke-width="1.0"/>
<line x1="399.30" y1="311.00" x2="406.10" y2="311.00" stroke="#595959" stroke-width="1.0"/>
<line x1="399.30" y1="317.50" x2="406.10" y2="317.50" stroke="#595959" stroke-width="1.0"/>
<line x1="482.90" y1="267.20" x2="482.90" y2="272.20" stroke="#595959" stroke-width="1.0"/>
<line x1="479.50" y1="267.20" x2="486.30" y2="267.20" stroke="#595959" stroke-width="1.0"/>
<line x1="479.50" y1="272.20" x2="486.30" y2="272.20" stroke="#595959" stroke-width="1.0"/>
<line x1="563.00" y1="254.80" x2="563.00" y2="262.00" stroke="#595959" stroke-width="1.0"/>
<line x1="559.60" y1="254.80" x2="566.40" y2="254.80" stroke="#595959" stroke-width="1.0"/>
<line x1="559.60" y1="262.00" x2="566.40" y2="262.00" stroke="#595959" stroke-width="1.0"/>
<line x1="643.20" y1="226.30" x2="643.20" y2="233.00" stroke="#595959" stroke-width="1.0"/>
<line x1="639.80" y1="226.30" x2="646.60" y2="226.30" stroke="#595959" stroke-width="1.0"/>
<line x1="639.80" y1="233.00" x2="646.60" y2="233.00" stroke="#595959" stroke-width="1.0"/>
<line x1="402.70" y1="316.00" x2="402.70" y2="324.30" stroke="#595959" stroke-width="1.0"/>
<line x1="399.30" y1="316.00" x2="406.10" y2="316.00" stroke="#595959" stroke-width="1.0"/>
<line x1="399.30" y1="324.30" x2="406.10" y2="324.30" stroke="#595959" stroke-width="1.0"/>
<line x1="482.90" y1="283.20" x2="482.90" y2="292.30" stroke="#595959" stroke-width="1.0"/>
<line x1="479.50" y1="283.20" x2="486.30" y2="283.20" stroke="#595959" stroke-width="1.0"/>
<line x1="479.50" y1="292.30" x2="486.30" y2="292.30" stroke="#595959" stroke-width="1.0"/>
<line x1="563.00" y1="267.70" x2="563.00" y2="291.80" stroke="#595959" stroke-width="1.0"/>
<line x1="559.60" y1="267.70" x2="566.40" y2="267.70" stroke="#595959" stroke-width="1.0"/>
<line x1="559.60" y1="291.80" x2="566.40" y2="291.80" stroke="#595959" stroke-width="1.0"/>
<line x1="643.20" y1="268.10" x2="643.20" y2="272.40" stroke="#595959" stroke-width="1.0"/>
<line x1="639.80" y1="268.10" x2="646.60" y2="268.10" stroke="#595959" stroke-width="1.0"/>
<line x1="639.80" y1="272.40" x2="646.60" y2="272.40" stroke="#595959" stroke-width="1.0"/>
<line x1="402.70" y1="289.70" x2="402.70" y2="292.40" stroke="#595959" stroke-width="1.0"/>
<line x1="399.30" y1="289.70" x2="406.10" y2="289.70" stroke="#595959" stroke-width="1.0"/>
<line x1="399.30" y1="292.40" x2="406.10" y2="292.40" stroke="#595959" stroke-width="1.0"/>
<line x1="482.90" y1="231.70" x2="482.90" y2="242.30" stroke="#595959" stroke-width="1.0"/>
<line x1="479.50" y1="231.70" x2="486.30" y2="231.70" stroke="#595959" stroke-width="1.0"/>
<line x1="479.50" y1="242.30" x2="486.30" y2="242.30" stroke="#595959" stroke-width="1.0"/>
<line x1="643.20" y1="220.20" x2="643.20" y2="233.40" stroke="#595959" stroke-width="1.0"/>
<line x1="639.80" y1="220.20" x2="646.60" y2="220.20" stroke="#595959" stroke-width="1.0"/>
<line x1="639.80" y1="233.40" x2="646.60" y2="233.40" stroke="#595959" stroke-width="1.0"/>
<line x1="402.70" y1="305.60" x2="402.70" y2="308.40" stroke="#595959" stroke-width="1.0"/>
<line x1="399.30" y1="305.60" x2="406.10" y2="305.60" stroke="#595959" stroke-width="1.0"/>
<line x1="399.30" y1="308.40" x2="406.10" y2="308.40" stroke="#595959" stroke-width="1.0"/>
<line x1="482.90" y1="261.40" x2="482.90" y2="272.00" stroke="#595959" stroke-width="1.0"/>
<line x1="479.50" y1="261.40" x2="486.30" y2="261.40" stroke="#595959" stroke-width="1.0"/>
<line x1="479.50" y1="272.00" x2="486.30" y2="272.00" stroke="#595959" stroke-width="1.0"/>
<line x1="563.00" y1="272.40" x2="563.00" y2="279.90" stroke="#595959" stroke-width="1.0"/>
<line x1="559.60" y1="272.40" x2="566.40" y2="272.40" stroke="#595959" stroke-width="1.0"/>
<line x1="559.60" y1="279.90" x2="566.40" y2="279.90" stroke="#595959" stroke-width="1.0"/>
<line x1="643.20" y1="215.50" x2="643.20" y2="221.80" stroke="#595959" stroke-width="1.0"/>
<line x1="639.80" y1="215.50" x2="646.60" y2="215.50" stroke="#595959" stroke-width="1.0"/>
<line x1="639.80" y1="221.80" x2="646.60" y2="221.80" stroke="#595959" stroke-width="1.0"/>
<polyline points="402.7,310.8 482.9,258.7 563.0,245.7 643.2,204.0" fill="none" stroke="#4472c4" stroke-width="1.5" stroke-linejoin="round" stroke-linecap="round"/>
<polyline points="402.7,314.3 482.9,269.6 563.0,258.4 643.2,229.4" fill="none" stroke="#ed7d31" stroke-width="1.5" stroke-linejoin="round" stroke-linecap="round"/>
<polyline points="402.7,319.9 482.9,287.9 563.0,279.8 643.2,270.2" fill="none" stroke="#ffc000" stroke-width="1.5" stroke-linejoin="round" stroke-linecap="round"/>
<polyline points="402.7,291.0 482.9,237.0 563.0,223.8 643.2,226.7" fill="none" stroke="#70c13f" stroke-width="1.5" stroke-linejoin="round" stroke-linecap="round"/>
<polyline points="402.7,307.1 482.9,266.8 563.0,276.3 643.2,218.8" fill="none" stroke="#2ec4b6" stroke-width="1.5" stroke-linejoin="round" stroke-linecap="round"/>
<text x="402.10" y="345.60" text-anchor="middle">1 d</text>
<text x="482.30" y="345.60" text-anchor="middle">2 d</text>
<text x="562.40" y="345.60" text-anchor="middle">3 d</text>
<text x="642.60" y="345.60" text-anchor="middle">5 d</text>
<line x1="380.00" y1="360.70" x2="409.20" y2="360.70" stroke="#4472c4" stroke-width="1.5" stroke-linecap="round"/>
<text x="412.20" y="364.60" text-anchor="start">Nh</text>
<line x1="436.40" y1="360.70" x2="465.60" y2="360.70" stroke="#ed7d31" stroke-width="1.5" stroke-linecap="round"/>
<text x="468.30" y="364.60" text-anchor="start">Pon</text>
<line x1="496.30" y1="360.70" x2="525.30" y2="360.70" stroke="#ffc000" stroke-width="1.5" stroke-linecap="round"/>
<text x="528.40" y="364.60" text-anchor="start">JG</text>
<line x1="551.20" y1="360.70" x2="580.00" y2="360.70" stroke="#70c13f" stroke-width="1.5" stroke-linecap="round"/>
<text x="583.00" y="364.60" text-anchor="start">WJC</text>
<line x1="616.20" y1="360.70" x2="645.40" y2="360.70" stroke="#2ec4b6" stroke-width="1.5" stroke-linecap="round"/>
<text x="648.40" y="364.60" text-anchor="start">Cal</text>
<text x="528.00" y="382.60" text-anchor="middle">Day after inoculation</text>
<text transform="translate(333.80,261.80) rotate(-90)" text-anchor="middle">log2 (Relative expression of <tspan font-style="italic">LOB1</tspan>)</text>
<line x1="120.95" y1="511.11" x2="296.88" y2="457.12" stroke="#ed7d31" stroke-width="1.9" stroke-dasharray="0.1 3.3" stroke-linecap="round"/>
<line x1="76.00" y1="436.50" x2="76.00" y2="524.00" stroke="#161616" stroke-width="1.25"/>
<line x1="75.40" y1="523.40" x2="309.10" y2="523.40" stroke="#161616" stroke-width="1.25"/>
<line x1="76.00" y1="523.40" x2="79.00" y2="523.40" stroke="#161616" stroke-width="1.1"/>
<text x="65.80" y="526.70" text-anchor="end">0.1</text>
<line x1="76.00" y1="501.82" x2="79.00" y2="501.82" stroke="#161616" stroke-width="1.1"/>
<text x="65.80" y="505.12" text-anchor="end">0.3</text>
<line x1="76.00" y1="480.25" x2="79.00" y2="480.25" stroke="#161616" stroke-width="1.1"/>
<text x="65.80" y="483.55" text-anchor="end">0.5</text>
<line x1="76.00" y1="458.68" x2="79.00" y2="458.68" stroke="#161616" stroke-width="1.1"/>
<text x="65.80" y="461.98" text-anchor="end">0.7</text>
<line x1="76.00" y1="437.10" x2="79.00" y2="437.10" stroke="#161616" stroke-width="1.1"/>
<text x="65.80" y="440.40" text-anchor="end">0.9</text>
<text x="76.00" y="540.60" text-anchor="middle">0</text>
<line x1="153.50" y1="523.40" x2="153.50" y2="520.40" stroke="#161616" stroke-width="1.1"/>
<text x="153.50" y="540.60" text-anchor="middle">1</text>
<line x1="231.00" y1="523.40" x2="231.00" y2="520.40" stroke="#161616" stroke-width="1.1"/>
<text x="231.00" y="540.60" text-anchor="middle">2</text>
<line x1="308.50" y1="523.40" x2="308.50" y2="520.40" stroke="#161616" stroke-width="1.1"/>
<text x="308.50" y="540.60" text-anchor="middle">3</text>
<circle cx="120.95" cy="514.77" r="3.5" fill="#ed7d31"/>
<circle cx="159.70" cy="501.82" r="3.5" fill="#ed7d31"/>
<circle cx="176.75" cy="465.15" r="3.5" fill="#ed7d31"/>
<circle cx="196.12" cy="513.69" r="3.5" fill="#ed7d31"/>
<circle cx="296.88" cy="455.44" r="3.5" fill="#ed7d31"/>
<text x="171.60" y="416.40" text-anchor="middle">1 dpi</text>
<text x="265.60" y="499.20" text-anchor="middle">y = 0.2205x + 0.086</text>
<text x="265.60" y="513.20" text-anchor="middle">R² = 0.5159</text>
<text x="191.70" y="559.30" text-anchor="middle">log2 (Relative expression of <tspan font-style="italic">LOB1</tspan>)</text>
<text transform="translate(43.90,484.85) rotate(-90)" text-anchor="middle">Lesion area (mm<tspan font-size="7.5" dy="-4">2</tspan><tspan dy="4">)</tspan></text>
<line x1="466.13" y1="521.67" x2="619.64" y2="454.38" stroke="#ed7d31" stroke-width="1.9" stroke-dasharray="0.1 3.3" stroke-linecap="round"/>
<line x1="423.60" y1="436.50" x2="423.60" y2="524.00" stroke="#161616" stroke-width="1.25"/>
<line x1="423.00" y1="523.40" x2="656.20" y2="523.40" stroke="#161616" stroke-width="1.25"/>
<line x1="423.60" y1="523.40" x2="426.60" y2="523.40" stroke="#161616" stroke-width="1.1"/>
<text x="413.40" y="526.70" text-anchor="end">0.1</text>
<line x1="423.60" y1="501.82" x2="426.60" y2="501.82" stroke="#161616" stroke-width="1.1"/>
<text x="413.40" y="505.12" text-anchor="end">0.3</text>
<line x1="423.60" y1="480.25" x2="426.60" y2="480.25" stroke="#161616" stroke-width="1.1"/>
<text x="413.40" y="483.55" text-anchor="end">0.5</text>
<line x1="423.60" y1="458.68" x2="426.60" y2="458.68" stroke="#161616" stroke-width="1.1"/>
<text x="413.40" y="461.98" text-anchor="end">0.7</text>
<line x1="423.60" y1="437.10" x2="426.60" y2="437.10" stroke="#161616" stroke-width="1.1"/>
<text x="413.40" y="440.40" text-anchor="end">0.9</text>
<text x="423.60" y="540.60" text-anchor="middle">2</text>
<line x1="500.93" y1="523.40" x2="500.93" y2="520.40" stroke="#161616" stroke-width="1.1"/>
<text x="500.93" y="540.60" text-anchor="middle">4</text>
<line x1="578.27" y1="523.40" x2="578.27" y2="520.40" stroke="#161616" stroke-width="1.1"/>
<text x="578.27" y="540.60" text-anchor="middle">6</text>
<line x1="655.60" y1="523.40" x2="655.60" y2="520.40" stroke="#161616" stroke-width="1.1"/>
<text x="655.60" y="540.60" text-anchor="middle">8</text>
<circle cx="466.13" cy="514.77" r="3.5" fill="#ed7d31"/>
<circle cx="521.43" cy="501.82" r="3.5" fill="#ed7d31"/>
<circle cx="529.93" cy="513.69" r="3.5" fill="#ed7d31"/>
<circle cx="555.07" cy="465.15" r="3.5" fill="#ed7d31"/>
<circle cx="619.64" cy="455.44" r="3.5" fill="#ed7d31"/>
<text x="518.70" y="416.40" text-anchor="middle">2 dpi</text>
<text x="603.90" y="501.10" text-anchor="middle">y = 0.1571x - 0.3709</text>
<text x="603.90" y="514.30" text-anchor="middle">R² = 0.7541</text>
<text x="539.10" y="559.30" text-anchor="middle">log2 (Relative expression of <tspan font-style="italic">LOB1</tspan>)</text>
<text transform="translate(391.70,484.85) rotate(-90)" text-anchor="middle">Lesion area (mm<tspan font-size="7.5" dy="-4">2</tspan><tspan dy="4">)</tspan></text>
<line x1="104.29" y1="688.59" x2="272.85" y2="623.55" stroke="#ed7d31" stroke-width="1.9" stroke-dasharray="0.1 3.3" stroke-linecap="round"/>
<line x1="76.00" y1="608.60" x2="76.00" y2="695.80" stroke="#161616" stroke-width="1.25"/>
<line x1="75.40" y1="695.20" x2="309.10" y2="695.20" stroke="#161616" stroke-width="1.25"/>
<line x1="76.00" y1="695.20" x2="79.00" y2="695.20" stroke="#161616" stroke-width="1.1"/>
<text x="65.80" y="698.50" text-anchor="end">0.1</text>
<line x1="76.00" y1="673.70" x2="79.00" y2="673.70" stroke="#161616" stroke-width="1.1"/>
<text x="65.80" y="677.00" text-anchor="end">0.3</text>
<line x1="76.00" y1="652.20" x2="79.00" y2="652.20" stroke="#161616" stroke-width="1.1"/>
<text x="65.80" y="655.50" text-anchor="end">0.5</text>
<line x1="76.00" y1="630.70" x2="79.00" y2="630.70" stroke="#161616" stroke-width="1.1"/>
<text x="65.80" y="634.00" text-anchor="end">0.7</text>
<line x1="76.00" y1="609.20" x2="79.00" y2="609.20" stroke="#161616" stroke-width="1.1"/>
<text x="65.80" y="612.50" text-anchor="end">0.9</text>
<text x="76.00" y="713.30" text-anchor="middle">3</text>
<line x1="153.50" y1="695.20" x2="153.50" y2="692.20" stroke="#161616" stroke-width="1.1"/>
<text x="153.50" y="713.30" text-anchor="middle">5</text>
<line x1="231.00" y1="695.20" x2="231.00" y2="692.20" stroke="#161616" stroke-width="1.1"/>
<text x="231.00" y="713.30" text-anchor="middle">7</text>
<line x1="308.50" y1="695.20" x2="308.50" y2="692.20" stroke="#161616" stroke-width="1.1"/>
<text x="308.50" y="713.30" text-anchor="middle">9</text>
<circle cx="104.29" cy="686.60" r="4.1" fill="#ed7d31"/>
<circle cx="114.75" cy="685.53" r="4.1" fill="#ed7d31"/>
<circle cx="169.00" cy="673.70" r="4.1" fill="#ed7d31"/>
<circle cx="207.75" cy="637.15" r="4.1" fill="#ed7d31"/>
<circle cx="272.85" cy="627.48" r="4.1" fill="#ed7d31"/>
<text x="171.60" y="588.50" text-anchor="middle">3 dpi</text>
<text x="256.20" y="671.10" text-anchor="middle">y = 0.1391x - 0.3574</text>
<text x="256.20" y="684.30" text-anchor="middle">R² = 0.9187</text>
<text x="191.70" y="731.20" text-anchor="middle">log2 (Relative expression of <tspan font-style="italic">LOB1</tspan>)</text>
<text transform="translate(43.90,656.80) rotate(-90)" text-anchor="middle">Lesion area (mm<tspan font-size="7.5" dy="-4">2</tspan><tspan dy="4">)</tspan></text>
<line x1="469.58" y1="687.84" x2="599.01" y2="634.40" stroke="#ed7d31" stroke-width="1.9" stroke-dasharray="0.1 3.3" stroke-linecap="round"/>
<line x1="423.60" y1="608.60" x2="423.60" y2="695.80" stroke="#161616" stroke-width="1.25"/>
<line x1="423.00" y1="695.20" x2="654.10" y2="695.20" stroke="#161616" stroke-width="1.25"/>
<line x1="423.60" y1="695.20" x2="426.60" y2="695.20" stroke="#161616" stroke-width="1.1"/>
<text x="413.40" y="698.50" text-anchor="end">0.1</text>
<line x1="423.60" y1="673.70" x2="426.60" y2="673.70" stroke="#161616" stroke-width="1.1"/>
<text x="413.40" y="677.00" text-anchor="end">0.3</text>
<line x1="423.60" y1="652.20" x2="426.60" y2="652.20" stroke="#161616" stroke-width="1.1"/>
<text x="413.40" y="655.50" text-anchor="end">0.5</text>
<line x1="423.60" y1="630.70" x2="426.60" y2="630.70" stroke="#161616" stroke-width="1.1"/>
<text x="413.40" y="634.00" text-anchor="end">0.7</text>
<line x1="423.60" y1="609.20" x2="426.60" y2="609.20" stroke="#161616" stroke-width="1.1"/>
<text x="413.40" y="612.50" text-anchor="end">0.9</text>
<text x="423.60" y="713.30" text-anchor="middle">2</text>
<line x1="469.58" y1="695.20" x2="469.58" y2="692.20" stroke="#161616" stroke-width="1.1"/>
<text x="469.58" y="713.30" text-anchor="middle">4</text>
<line x1="515.56" y1="695.20" x2="515.56" y2="692.20" stroke="#161616" stroke-width="1.1"/>
<text x="515.56" y="713.30" text-anchor="middle">6</text>
<line x1="561.54" y1="695.20" x2="561.54" y2="692.20" stroke="#161616" stroke-width="1.1"/>
<text x="561.54" y="713.30" text-anchor="middle">8</text>
<line x1="607.52" y1="695.20" x2="607.52" y2="692.20" stroke="#161616" stroke-width="1.1"/>
<text x="607.52" y="713.30" text-anchor="middle">10</text>
<line x1="653.50" y1="695.20" x2="653.50" y2="692.20" stroke="#161616" stroke-width="1.1"/>
<text x="653.50" y="713.30" text-anchor="middle">12</text>
<circle cx="469.58" cy="685.53" r="3.5" fill="#ed7d31"/>
<circle cx="480.39" cy="686.60" r="3.5" fill="#ed7d31"/>
<circle cx="553.49" cy="673.70" r="3.5" fill="#ed7d31"/>
<circle cx="558.78" cy="627.48" r="3.5" fill="#ed7d31"/>
<circle cx="599.01" cy="637.15" r="3.5" fill="#ed7d31"/>
<text x="518.70" y="588.50" text-anchor="middle">5 dpi</text>
<text x="621.40" y="672.40" text-anchor="middle">y = 0.0883x - 0.1847</text>
<text x="621.40" y="685.80" text-anchor="middle">R² = 0.6719</text>
<text x="537.00" y="731.20" text-anchor="middle">log2 (Relative expression of <tspan font-style="italic">LOB1</tspan>)</text>
<text transform="translate(391.70,656.80) rotate(-90)" text-anchor="middle">Lesion area (mm<tspan font-size="7.5" dy="-4">2</tspan><tspan dy="4">)</tspan></text>
</svg></body></html>
